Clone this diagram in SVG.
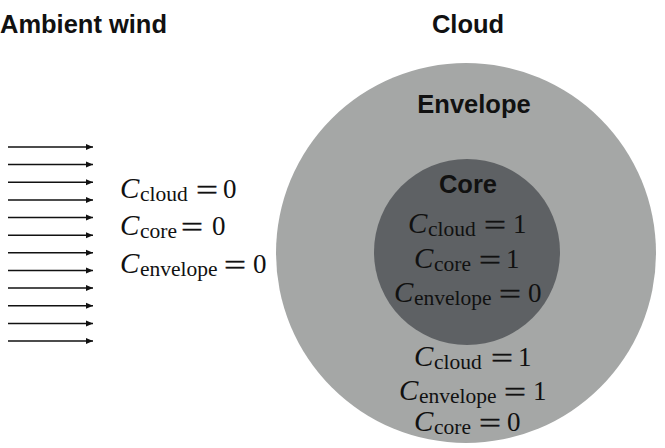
<svg xmlns="http://www.w3.org/2000/svg" width="665" height="448" viewBox="0 0 665 448">
<style>
.title{font-family:"Liberation Sans",Arial,sans-serif;font-weight:bold;font-size:25.5px;fill:#111}
.m{font-family:"Liberation Serif","Times New Roman",serif;font-size:27px;fill:#111}
.c{font-style:italic;font-size:29px}
.s{font-size:21.5px}
.eq{font-family:"Liberation Serif","Times New Roman",serif;font-size:27px;fill:#111;stroke:#111;stroke-width:0.4}
.wind{stroke:#111;stroke-width:1.5;fill:none}
</style>
<defs>
<marker id="ah" markerWidth="8" markerHeight="8" refX="7" refY="4" orient="auto" markerUnits="userSpaceOnUse">
<path d="M0,1 L7,4 L0,7 Z" fill="#111"/>
</marker>
</defs>
<rect width="665" height="448" fill="#fff"/>
<text class="title" x="0" y="33" textLength="167" lengthAdjust="spacingAndGlyphs">Ambient wind</text>
<text class="title" x="468" y="33" text-anchor="middle">Cloud</text>
<g id="envelope">
<circle cx="466" cy="253" r="190" fill="#a5a7a6"/>
<text class="title" x="474" y="113" text-anchor="middle">Envelope</text>
</g>
<g id="core">
<circle cx="467" cy="252" r="93" fill="#5e6164"/>
<text class="title" x="468" y="193" text-anchor="middle">Core</text>
</g>
<g id="wind">
<g class="wind" marker-end="url(#ah)">
<line x1="8" y1="147" x2="93" y2="147"/>
<line x1="8" y1="164.6" x2="93" y2="164.6"/>
<line x1="8" y1="182.3" x2="93" y2="182.3"/>
<line x1="8" y1="199.9" x2="93" y2="199.9"/>
<line x1="8" y1="217.5" x2="93" y2="217.5"/>
<line x1="8" y1="235.2" x2="93" y2="235.2"/>
<line x1="8" y1="252.8" x2="93" y2="252.8"/>
<line x1="8" y1="270.5" x2="93" y2="270.5"/>
<line x1="8" y1="288.1" x2="93" y2="288.1"/>
<line x1="8" y1="305.7" x2="93" y2="305.7"/>
<line x1="8" y1="323.4" x2="93" y2="323.4"/>
<line x1="8" y1="341" x2="93" y2="341"/>
</g>
</g>
<g id="ambient-labels">
<text class="m"><tspan class="c" x="120" y="198">C</tspan><tspan class="s" x="140" y="201">cloud</tspan><tspan x="223" y="198">0</tspan></text>
<text class="eq" x="196" y="199" textLength="22" lengthAdjust="spacingAndGlyphs">=</text>
<text class="m"><tspan class="c" x="120" y="235">C</tspan><tspan class="s" x="140" y="238">core</tspan><tspan x="212" y="235">0</tspan></text>
<text class="eq" x="181" y="236" textLength="22" lengthAdjust="spacingAndGlyphs">=</text>
<text class="m"><tspan class="c" x="120" y="273">C</tspan><tspan class="s" x="140" y="276">envelope</tspan><tspan x="253" y="273">0</tspan></text>
<text class="eq" x="224" y="274" textLength="22" lengthAdjust="spacingAndGlyphs">=</text>
</g>
<g id="core-labels">
<text class="m"><tspan class="c" x="408" y="233">C</tspan><tspan class="s" x="428" y="236">cloud</tspan><tspan x="513" y="233">1</tspan></text>
<text class="eq" x="484" y="234" textLength="22" lengthAdjust="spacingAndGlyphs">=</text>
<text class="m"><tspan class="c" x="414" y="268">C</tspan><tspan class="s" x="434" y="271">core</tspan><tspan x="506" y="268">1</tspan></text>
<text class="eq" x="479" y="269" textLength="22" lengthAdjust="spacingAndGlyphs">=</text>
<text class="m"><tspan class="c" x="394" y="302">C</tspan><tspan class="s" x="414" y="305">envelope</tspan><tspan x="528" y="302">0</tspan></text>
<text class="eq" x="499" y="303" textLength="22" lengthAdjust="spacingAndGlyphs">=</text>
</g>
<g id="envelope-labels">
<text class="m"><tspan class="c" x="414" y="366">C</tspan><tspan class="s" x="434" y="369">cloud</tspan><tspan x="518" y="366">1</tspan></text>
<text class="eq" x="491" y="367" textLength="22" lengthAdjust="spacingAndGlyphs">=</text>
<text class="m"><tspan class="c" x="399" y="400">C</tspan><tspan class="s" x="419" y="403">envelope</tspan><tspan x="533" y="400">1</tspan></text>
<text class="eq" x="504" y="401" textLength="22" lengthAdjust="spacingAndGlyphs">=</text>
<text class="m"><tspan class="c" x="414" y="431">C</tspan><tspan class="s" x="434" y="434">core</tspan><tspan x="507" y="431">0</tspan></text>
<text class="eq" x="479" y="432" textLength="22" lengthAdjust="spacingAndGlyphs">=</text>
</g>
</svg>
